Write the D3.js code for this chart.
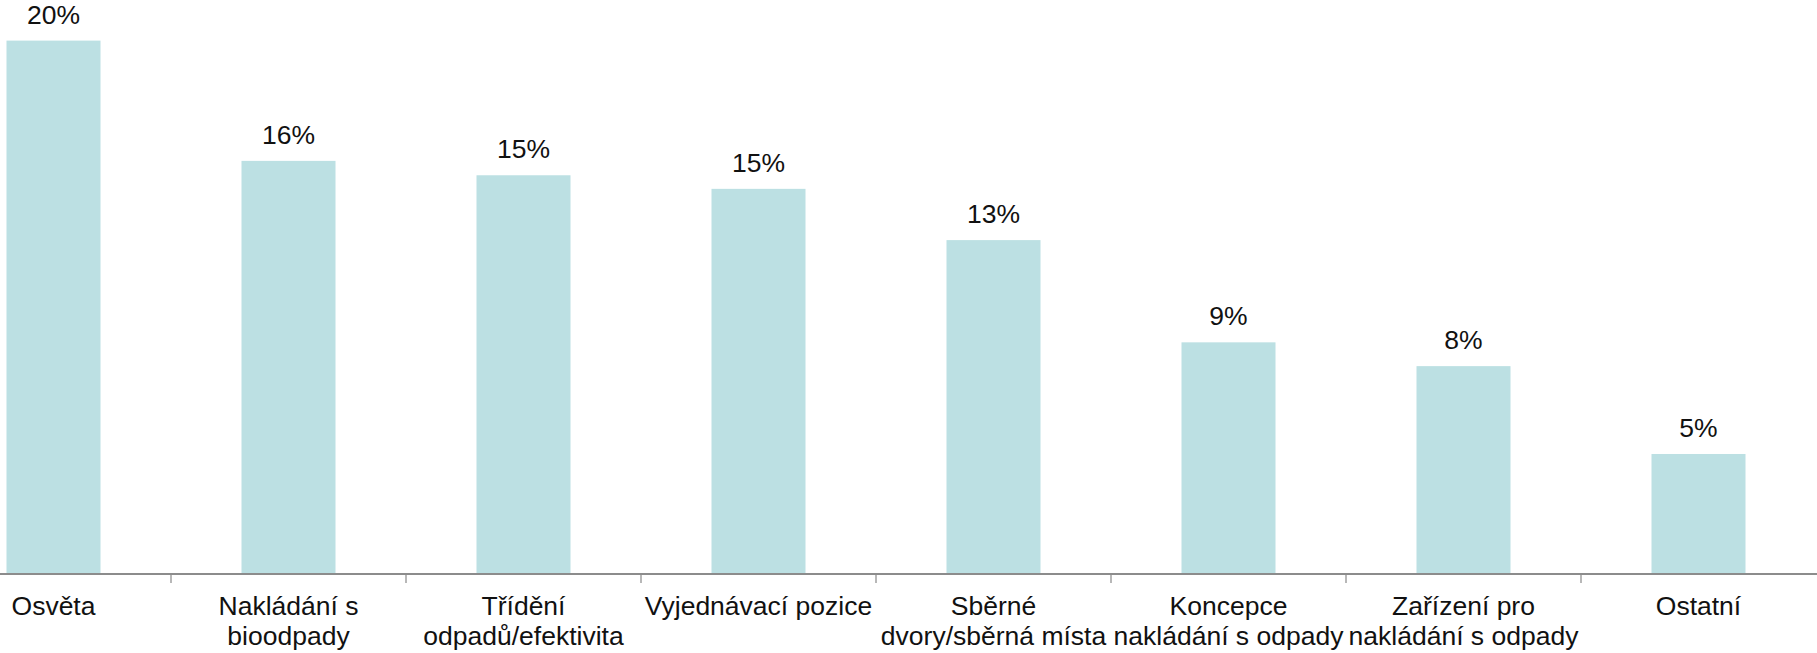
<!DOCTYPE html>
<html>
<head>
<meta charset="utf-8">
<script src="https://cdn.jsdelivr.net/npm/d3@7"></script>
<style>
  html, body { margin: 0; padding: 0; background: #ffffff; }
  svg { display: block; }
  text { font-family: "Liberation Sans", Arial, sans-serif; fill: #111111; }
</style>
</head>
<body>
<svg id="chart" width="1817" height="653"></svg>
<script>
const categories = [
  ["Osvěta"],
  ["Nakládání s", "bioodpady"],
  ["Třídění", "odpadů/efektivita"],
  ["Vyjednávací pozice"],
  ["Sběrné", "dvory/sběrná místa"],
  ["Koncepce", "nakládání s odpady"],
  ["Zařízení pro", "nakládání s odpady"],
  ["Ostatní"]
];
const values = [20.4, 15.8, 15.25, 14.73, 12.77, 8.86, 7.95, 4.59];

const W = 1817, H = 653;
const baseY = 574;
const svg = d3.select("#chart");

const keys = categories.map((c, i) => i);
const x = d3.scaleBand().domain(keys).range([-64, 1816]).paddingInner(0.6).paddingOuter(0.3);
const y = d3.scaleLinear().domain([0, 20.4]).range([baseY, 40.6]);

// bars
svg.append("g").selectAll("rect").data(values).join("rect")
  .attr("x", (d, i) => x(i))
  .attr("y", d => y(d))
  .attr("width", x.bandwidth())
  .attr("height", d => y(0) - y(d))
  .attr("fill", "#bce0e3");

// value labels
svg.append("g").selectAll("text").data(values).join("text")
  .attr("x", (d, i) => x(i) + x.bandwidth() / 2)
  .attr("y", d => y(d) - 17)
  .attr("text-anchor", "middle")
  .attr("font-size", 26.5)
  .text(d => Math.round(d) + "%");

// axis
const step = x.step();
const boundaries = keys.slice(1).map(i => x(i) - (step - x.bandwidth()) / 2);
svg.append("g").selectAll("line").data(boundaries).join("line")
  .attr("x1", d => d).attr("x2", d => d)
  .attr("y1", baseY).attr("y2", baseY + 9)
  .attr("stroke", "#a0a0a0").attr("stroke-width", 1.5);
svg.append("line")
  .attr("x1", 0).attr("x2", W)
  .attr("y1", baseY).attr("y2", baseY)
  .attr("stroke", "#8c8c8c").attr("stroke-width", 2.2);

// category labels
const lab = svg.append("g").selectAll("text").data(categories).join("text")
  .attr("x", (d, i) => x(i) + x.bandwidth() / 2)
  .attr("y", 615)
  .attr("text-anchor", "middle")
  .attr("font-size", 26.5);
lab.selectAll("tspan").data(d => d).join("tspan")
  .attr("x", function () { return d3.select(this.parentNode).attr("x"); })
  .attr("dy", (d, j) => j === 0 ? 0 : 30)
  .text(d => d);
</script>
</body>
</html>
